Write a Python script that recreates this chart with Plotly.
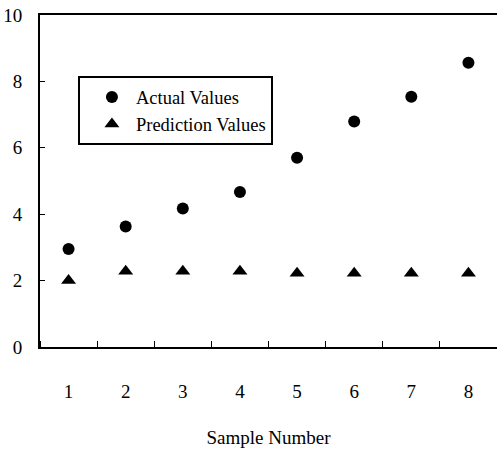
import plotly.graph_objects as go

samples = [1, 2, 3, 4, 5, 6, 7, 8]
actual_values = [2.95, 3.63, 4.17, 4.67, 5.70, 6.79, 7.54, 8.56]
prediction_values = [2.0, 2.28, 2.28, 2.28, 2.22, 2.22, 2.22, 2.22]
y_ticks = [0, 2, 4, 6, 8, 10]

FONT = "Liberation Serif, Times New Roman, serif"

fig = go.Figure()
fig.add_trace(go.Scatter(
    x=samples, y=actual_values, mode="markers", name="Actual Values",
    marker=dict(symbol="circle", size=12, color="black"),
))
fig.add_trace(go.Scatter(
    x=samples, y=prediction_values, mode="markers", name="Prediction Values",
    marker=dict(symbol="triangle-up", size=13, color="black"),
))

fig.update_layout(
    width=497, height=459,
    margin=dict(l=40, r=0, t=15, b=112),
    paper_bgcolor="white", plot_bgcolor="white",
    font=dict(family=FONT, size=19, color="black"),
    showlegend=True,
    legend=dict(
        x=0.083, y=0.815, xanchor="left", yanchor="top",
        bordercolor="black", borderwidth=2, bgcolor="white",
        font=dict(family=FONT, size=18.5, color="black"),
        indentation=8,
        itemwidth=38,
        tracegroupgap=0,
    ),
    xaxis=dict(
        range=[0.5, 8.5], tickvals=samples, ticktext=[str(s) for s in samples],
        showgrid=False, zeroline=False,
        showline=True, linecolor="black", linewidth=2, mirror=True,
        ticks="", ticklabelstandoff=26,
        minor=dict(tick0=0.5, dtick=1, ticks="inside", ticklen=6,
                   tickcolor="black", tickwidth=1, showgrid=False),
        title=dict(text="Sample Number", standoff=30,
                   font=dict(family=FONT, size=19, color="black")),
    ),
    yaxis=dict(
        range=[0, 10], tickvals=y_ticks,
        showgrid=False, zeroline=False,
        showline=True, linecolor="black", linewidth=2, mirror=False,
        ticks="inside", ticklen=5, tickcolor="black", tickwidth=1,
        ticklabelstandoff=12,
    ),
)

fig.write_html("out.html")
